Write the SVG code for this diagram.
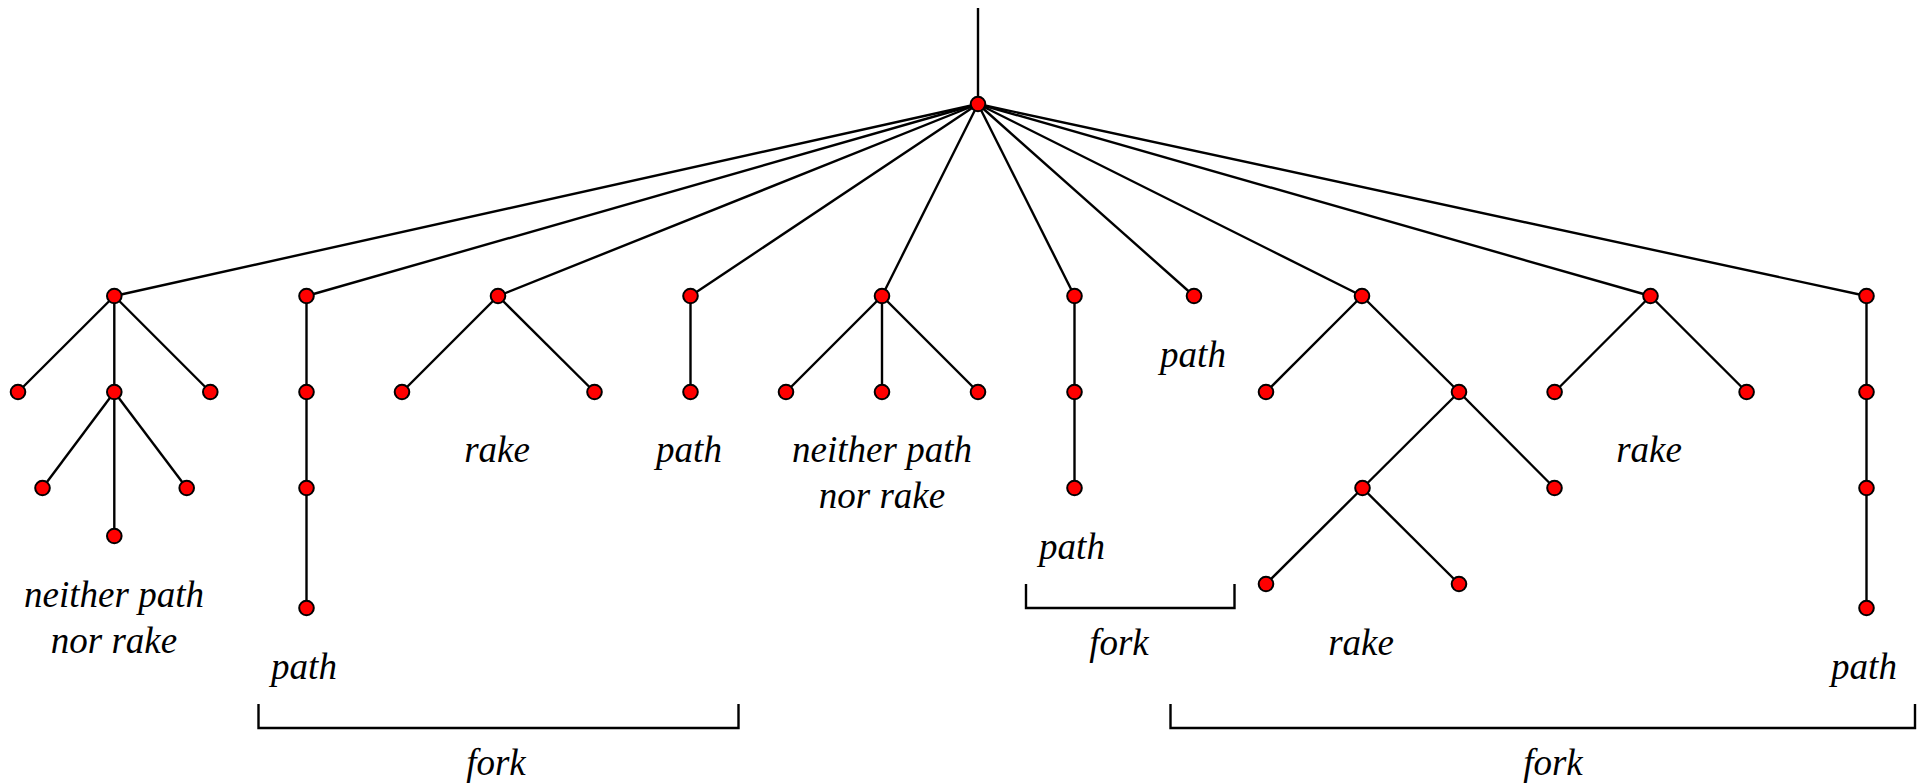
<svg xmlns="http://www.w3.org/2000/svg" width="1927" height="784" viewBox="0 0 1927 784">
<style>
.e{stroke:#000;stroke-width:2.4;fill:none}
.b{stroke:#000;stroke-width:2.4;fill:none}
.n{fill:#ff0000;stroke:#000;stroke-width:2}
.t{font-family:"Liberation Serif","Times New Roman",serif;font-style:italic;font-size:37px;fill:#000;text-anchor:middle}
</style>
<rect width="1927" height="784" fill="#fff"/>
<g id="connectors">
<line class="e" x1="978" y1="8" x2="978" y2="104"/>
<line class="e" x1="978" y1="104" x2="114.3" y2="296"/>
<line class="e" x1="978" y1="104" x2="306.5" y2="296"/>
<line class="e" x1="978" y1="104" x2="498" y2="296"/>
<line class="e" x1="978" y1="104" x2="690.5" y2="296"/>
<line class="e" x1="978" y1="104" x2="882" y2="296"/>
<line class="e" x1="978" y1="104" x2="1074.5" y2="296"/>
<line class="e" x1="978" y1="104" x2="1194" y2="296"/>
<line class="e" x1="978" y1="104" x2="1362" y2="296"/>
<line class="e" x1="978" y1="104" x2="1650.5" y2="296"/>
<line class="e" x1="978" y1="104" x2="1866.5" y2="296"/>
<line class="e" x1="114.3" y1="296" x2="18" y2="392"/>
<line class="e" x1="114.3" y1="296" x2="114.3" y2="392"/>
<line class="e" x1="114.3" y1="296" x2="210.3" y2="392"/>
<line class="e" x1="114.3" y1="392" x2="42.5" y2="488"/>
<line class="e" x1="114.3" y1="392" x2="114.3" y2="536"/>
<line class="e" x1="114.3" y1="392" x2="186.7" y2="488"/>
<line class="e" x1="306.5" y1="296" x2="306.5" y2="608"/>
<line class="e" x1="498" y1="296" x2="402" y2="392"/>
<line class="e" x1="498" y1="296" x2="594.5" y2="392"/>
<line class="e" x1="690.5" y1="296" x2="690.5" y2="392"/>
<line class="e" x1="882" y1="296" x2="786" y2="392"/>
<line class="e" x1="882" y1="296" x2="882" y2="392"/>
<line class="e" x1="882" y1="296" x2="978" y2="392"/>
<line class="e" x1="1074.5" y1="296" x2="1074.5" y2="488"/>
<line class="e" x1="1362" y1="296" x2="1266" y2="392"/>
<line class="e" x1="1362" y1="296" x2="1459" y2="392"/>
<line class="e" x1="1459" y1="392" x2="1362.5" y2="488"/>
<line class="e" x1="1459" y1="392" x2="1554.5" y2="488"/>
<line class="e" x1="1362.5" y1="488" x2="1266" y2="584"/>
<line class="e" x1="1362.5" y1="488" x2="1459" y2="584"/>
<line class="e" x1="1650.5" y1="296" x2="1554.6" y2="392"/>
<line class="e" x1="1650.5" y1="296" x2="1746.6" y2="392"/>
<line class="e" x1="1866.5" y1="296" x2="1866.5" y2="608"/>
</g>
<g id="brackets">
<path class="b" d="M258.5,704 V728 H738.5 V704"/>
<path class="b" d="M1026,584 V608 H1234.5 V584"/>
<path class="b" d="M1170.5,704 V728 H1915 V704"/>
</g>
<g id="root"><circle class="n" cx="978" cy="104" r="7.3"/></g>
<g id="treeA">
<circle class="n" cx="114.3" cy="296" r="7.3"/>
<circle class="n" cx="18" cy="392" r="7.3"/>
<circle class="n" cx="114.3" cy="392" r="7.3"/>
<circle class="n" cx="210.3" cy="392" r="7.3"/>
<circle class="n" cx="42.5" cy="488" r="7.3"/>
<circle class="n" cx="114.3" cy="536" r="7.3"/>
<circle class="n" cx="186.7" cy="488" r="7.3"/>
</g>
<g id="treeB">
<circle class="n" cx="306.5" cy="296" r="7.3"/>
<circle class="n" cx="306.5" cy="392" r="7.3"/>
<circle class="n" cx="306.5" cy="488" r="7.3"/>
<circle class="n" cx="306.5" cy="608" r="7.3"/>
</g>
<g id="treeC">
<circle class="n" cx="498" cy="296" r="7.3"/>
<circle class="n" cx="402" cy="392" r="7.3"/>
<circle class="n" cx="594.5" cy="392" r="7.3"/>
</g>
<g id="treeD">
<circle class="n" cx="690.5" cy="296" r="7.3"/>
<circle class="n" cx="690.5" cy="392" r="7.3"/>
</g>
<g id="treeE">
<circle class="n" cx="882" cy="296" r="7.3"/>
<circle class="n" cx="786" cy="392" r="7.3"/>
<circle class="n" cx="882" cy="392" r="7.3"/>
<circle class="n" cx="978" cy="392" r="7.3"/>
</g>
<g id="treeF">
<circle class="n" cx="1074.5" cy="296" r="7.3"/>
<circle class="n" cx="1074.5" cy="392" r="7.3"/>
<circle class="n" cx="1074.5" cy="488" r="7.3"/>
</g>
<g id="treeG">
<circle class="n" cx="1194" cy="296" r="7.3"/>
</g>
<g id="treeH">
<circle class="n" cx="1362" cy="296" r="7.3"/>
<circle class="n" cx="1266" cy="392" r="7.3"/>
<circle class="n" cx="1459" cy="392" r="7.3"/>
<circle class="n" cx="1362.5" cy="488" r="7.3"/>
<circle class="n" cx="1554.5" cy="488" r="7.3"/>
<circle class="n" cx="1266" cy="584" r="7.3"/>
<circle class="n" cx="1459" cy="584" r="7.3"/>
</g>
<g id="treeI">
<circle class="n" cx="1650.5" cy="296" r="7.3"/>
<circle class="n" cx="1554.6" cy="392" r="7.3"/>
<circle class="n" cx="1746.6" cy="392" r="7.3"/>
</g>
<g id="treeJ">
<circle class="n" cx="1866.5" cy="296" r="7.3"/>
<circle class="n" cx="1866.5" cy="392" r="7.3"/>
<circle class="n" cx="1866.5" cy="488" r="7.3"/>
<circle class="n" cx="1866.5" cy="608" r="7.3"/>
</g>
<g id="labels">
<text class="t" x="114" y="607">neither path</text>
<text class="t" x="114" y="653">nor rake</text>
<text class="t" x="304" y="679">path</text>
<text class="t" x="497" y="462">rake</text>
<text class="t" x="689" y="462">path</text>
<text class="t" x="882" y="462">neither path</text>
<text class="t" x="882" y="508">nor rake</text>
<text class="t" x="1072" y="559">path</text>
<text class="t" x="1193" y="367">path</text>
<text class="t" x="1119" y="655">fork</text>
<text class="t" x="496" y="775">fork</text>
<text class="t" x="1361" y="655">rake</text>
<text class="t" x="1649" y="462">rake</text>
<text class="t" x="1864" y="679">path</text>
<text class="t" x="1553" y="775">fork</text>
</g>
</svg>
